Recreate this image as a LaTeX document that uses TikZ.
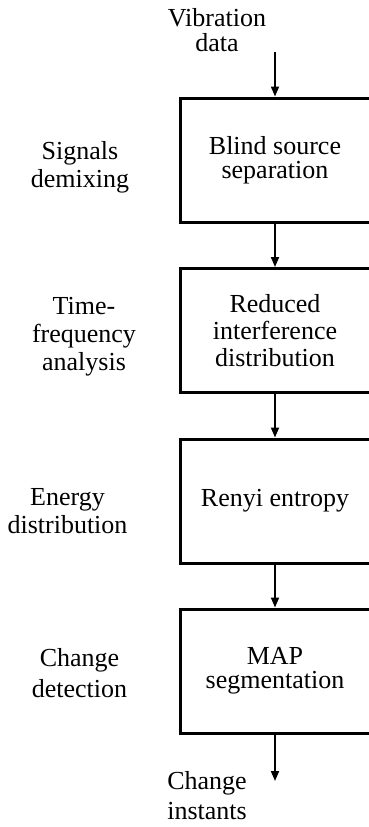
\documentclass[tikz,border=0pt]{standalone}
\usepackage{fontspec}
\setmainfont{Liberation Serif}
\usetikzlibrary{arrows.meta}

\begin{document}
\begin{tikzpicture}[x=1pt,y=-1pt,
  stagebox/.style={draw,line width=3pt,minimum width=190pt,minimum height=124pt,
    inner sep=0pt,align=center,font=\fontsize{26}{27}\selectfont},
  sidetext/.style={inner sep=0pt,align=center,font=\fontsize{26}{28}\selectfont},
  flow/.style={line width=1.8pt,-{Triangle[length=10pt,width=8pt]}}]

\useasboundingbox (0,0) rectangle (368,827);

%processing stages
\node[stagebox,font=\fontsize{26}{24}\selectfont] (bss) at (275,160) {Blind source\\separation};
\node[stagebox] (rid) at (275,330.5) {Reduced\\interference\\distribution};
\node[stagebox] (renyi) at (275,501) {Renyi entropy};
\node[stagebox,font=\fontsize{26}{24}\selectfont] (map) at (275,671) {MAP\\segmentation};

%what each stage does
\node[sidetext] (demix) at (80,167.5) {Signals\\demixing};
\node[sidetext] (tfa) at (84,337) {Time-\\frequency\\analysis};
\node[sidetext] (energy) at (67.5,511) {Energy\\distribution};
\node[sidetext,font=\fontsize{26}{31}\selectfont] (detect) at (79.5,673.5) {Change\\detection};

%input and output
\node[sidetext,font=\fontsize{26}{25}\selectfont] (vib) at (217,30.5) {Vibration\\data};
\node[sidetext,font=\fontsize{26}{30}\selectfont] (instants) at (207,796) {Change\\instants};
\coordinate (vibin) at (275,52);
\coordinate (out) at (275,781);

%arrows between the stages
\draw[flow] (vibin) -- (bss.north);
\draw[flow] (bss.south) -- (rid.north);
\draw[flow] (rid.south) -- (renyi.north);
\draw[flow] (renyi.south) -- (map.north);
\draw[flow] (map.south) -- (out);

\end{tikzpicture}
\end{document}
